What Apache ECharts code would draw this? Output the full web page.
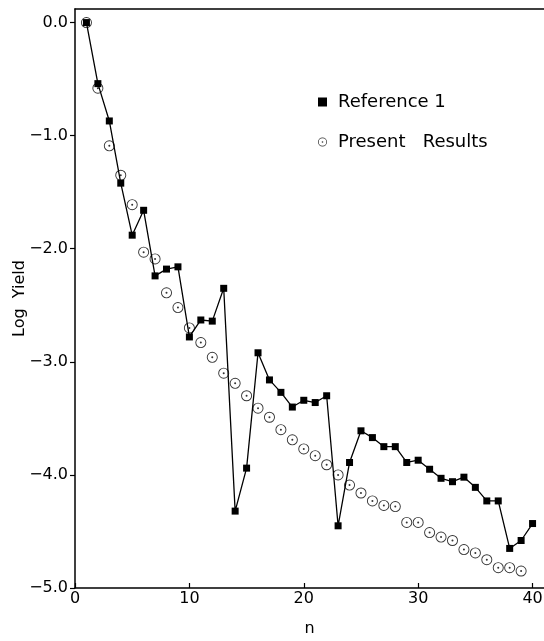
<!DOCTYPE html>
<html>
<head>
<meta charset="utf-8">
<script src="https://cdn.jsdelivr.net/npm/echarts@6/dist/echarts.min.js"></script>
<style>
  html, body { margin: 0; padding: 0; background: #fff; }
  #main { width: 544px; height: 641px; }
</style>
</head>
<body>
<div id="main"></div>
<script>
// n values and log yields
var refN = [1, 2, 3, 4, 5, 6, 7, 8, 9, 10, 11, 12, 13, 14, 15, 16, 17, 18, 19, 20,
            21, 22, 23, 24, 25, 26, 27, 28, 29, 30, 31, 32, 33, 34, 35, 36, 37, 38, 39, 40];
var refYield = [0.0, -0.54, -0.87, -1.42, -1.88, -1.66, -2.24, -2.18, -2.16, -2.78,
                -2.63, -2.64, -2.35, -4.32, -3.94, -2.92, -3.16, -3.27, -3.40, -3.34,
                -3.36, -3.30, -4.45, -3.89, -3.61, -3.67, -3.75, -3.75, -3.89, -3.87,
                -3.95, -4.03, -4.06, -4.02, -4.11, -4.23, -4.23, -4.65, -4.58, -4.43];

var presN = [1, 2, 3, 4, 5, 6, 7, 8, 9, 10, 11, 12, 13, 14, 15, 16, 17, 18, 19, 20,
             21, 22, 23, 24, 25, 26, 27, 28, 29, 30, 31, 32, 33, 34, 35, 36, 37, 38, 39];
var presYield = [0.0, -0.58, -1.09, -1.35, -1.61, -2.03, -2.09, -2.39, -2.52, -2.70,
                 -2.83, -2.96, -3.10, -3.19, -3.30, -3.41, -3.49, -3.60, -3.69, -3.77,
                 -3.83, -3.91, -4.00, -4.09, -4.16, -4.23, -4.27, -4.28, -4.42, -4.42,
                 -4.51, -4.55, -4.58, -4.66, -4.69, -4.75, -4.82, -4.82, -4.85];

var xTicks = [0, 10, 20, 30, 40];
var yTicks = [0, -1, -2, -3, -4, -5];

function pairs(xs, ys) {
  return xs.map(function (x, i) { return [x, ys[i]]; });
}

// open circle with a dot in the middle
var dotCircle = 'path://M0,-6A6,6,0,1,1,0,6A6,6,0,1,1,0,-6Z' +
  'M0,-5A5,5,0,1,0,0,5A5,5,0,1,0,0,-5Z' +
  'M0,-1.1A1.1,1.1,0,1,1,0,1.1A1.1,1.1,0,1,1,0,-1.1Z';

var font = 'DejaVu Sans, Liberation Sans, sans-serif';

var chart = echarts.init(document.getElementById('main'));
var option = {
  animation: false,
  backgroundColor: '#fff',
  grid: { left: 75, right: 0, top: 9, bottom: 53, outerBoundsMode: 'none', containLabel: false },
  legend: {
    orient: 'vertical',
    left: 313,
    top: 88,
    itemGap: 22,
    itemWidth: 9,
    itemHeight: 9,
    textStyle: { fontFamily: font, fontSize: 18, color: '#000', padding: [0, 0, 0, 6] },
    data: [
      { name: 'Reference 1', icon: 'rect' },
      { name: 'Present   Results', icon: dotCircle }
    ]
  },
  xAxis: [{
    type: 'value',
    min: 0,
    max: 41,
    interval: 10,
    name: 'n',
    nameLocation: 'middle',
    nameGap: 33,
    nameMoveOverlap: false,
    nameTextStyle: { fontFamily: font, fontSize: 16, color: '#000' },
    splitLine: { show: false },
    axisLine: { onZero: false, lineStyle: { color: '#000', width: 1.5 } },
    axisTick: { inside: true, length: 5, lineStyle: { color: '#000', width: 1.2 } },
    axisLabel: {
      margin: 3, fontFamily: font, fontSize: 16, color: '#000',
      showMaxLabel: false,
      formatter: function (v) { return xTicks.indexOf(v) >= 0 ? String(v) : ''; }
    }
  }, {
    type: 'value',
    position: 'top',
    min: 0,
    max: 41,
    splitLine: { show: false },
    axisLine: { onZero: false, lineStyle: { color: '#000', width: 1.5 } },
    axisTick: { show: false },
    axisLabel: { show: false }
  }],
  yAxis: {
    type: 'value',
    min: -5,
    max: 0.12,
    interval: 1,
    name: 'Log  Yield',
    nameLocation: 'middle',
    nameRotate: 90,
    nameGap: 47,
    nameMoveOverlap: false,
    nameTextStyle: { fontFamily: font, fontSize: 16, color: '#000' },
    splitLine: { show: false },
    axisLine: { onZero: false, lineStyle: { color: '#000', width: 1.5 } },
    axisTick: { length: 5, lineStyle: { color: '#000', width: 1.2 } },
    axisLabel: {
      margin: 7, fontFamily: font, fontSize: 16, color: '#000',
      showMaxLabel: false,
      formatter: function (v) {
        if (yTicks.indexOf(v) < 0) return '';
        return v.toFixed(1).replace('-', '\u2212');
      }
    }
  },
  series: [{
    name: 'Present   Results',
    type: 'scatter',
    symbol: dotCircle,
    symbolSize: 11,
    itemStyle: { color: '#000', borderWidth: 0 },
    silent: true,
    z: 2,
    data: pairs(presN, presYield)
  }, {
    name: 'Reference 1',
    type: 'line',
    symbol: 'rect',
    symbolSize: 7,
    showAllSymbol: true,
    lineStyle: { color: '#000', width: 1.3 },
    itemStyle: { color: '#000' },
    silent: true,
    z: 3,
    data: pairs(refN, refYield)
  }]
};
chart.setOption(option);
</script>
</body>
</html>
